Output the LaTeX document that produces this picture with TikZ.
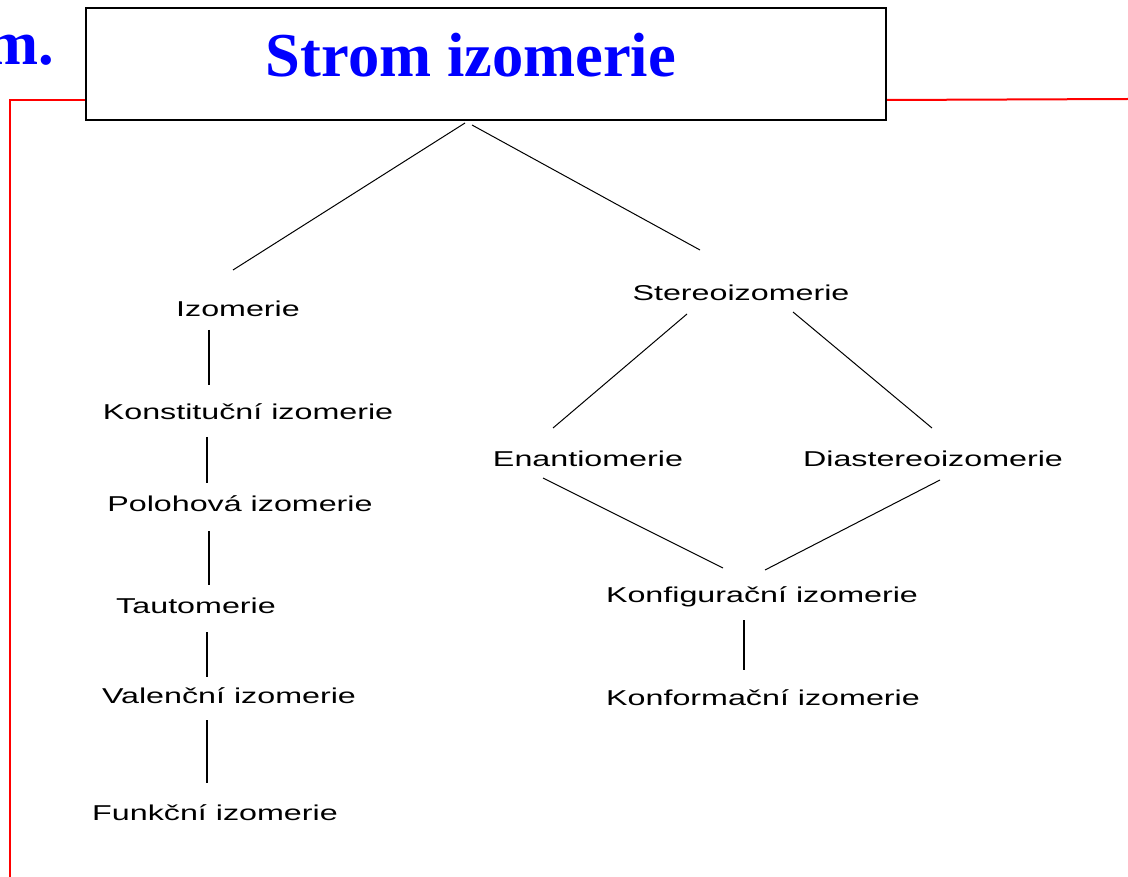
\documentclass[tikz,border=0pt]{standalone}
\usepackage{fontspec}
\usetikzlibrary{calc}
\newfontfamily\treefont[FakeStretch=1.5]{Liberation Sans}
\newfontfamily\titlefont{Liberation Serif}
\definecolor{ttblue}{RGB}{0,0,255}
\definecolor{rline}{RGB}{255,0,0}
\begin{document}
\begin{tikzpicture}[x=1pt,y=-1pt,
  lbl/.style={anchor=base,inner sep=0pt,font=\treefont\fontsize{21.5}{25}\selectfont},
  thin link/.style={draw=black,line width=1pt},
  vlink/.style={draw=black,line width=2pt},
  redline/.style={draw=rline,line width=2pt},
  ttext/.style={inner sep=0pt,text=ttblue,font=\titlefont\bfseries\fontsize{62.5}{70}\selectfont}]
\useasboundingbox (0,0) rectangle (1128,877);
\fill[white] (0,0) rectangle (1128,877);
% title box and red frame lines
\node[draw=black,line width=2pt,fill=white,minimum width=800pt,minimum height=112pt,inner sep=0pt] (title) at (486,64) {};
\draw[redline] (10,877) |- ($(title.south west)+(0,-21)$);
\draw[redline] ($(title.south east)+(0,-21)$) -- (1128,99);
\node[ttext,anchor=base] (ttl) at (471,77) {Strom izomerie};
\node[ttext,anchor=base east] (mm) at (54,65) {m.};
% tree labels
\node[lbl] (izo) at (238,317) {Izomerie};
\node[lbl] (konst) at (248,420) {Konstituční izomerie};
\node[lbl] (polo) at (240,511) {Polohová izomerie};
\node[lbl] (tauto) at (196,613) {Tautomerie};
\node[lbl] (valen) at (229,703) {Valenční izomerie};
\node[lbl] (funk) at (215,820) {Funkční izomerie};
\node[lbl] (stereo) at (741,301) {Stereoizomerie};
\node[lbl] (enan) at (588,466) {Enantiomerie};
\node[lbl] (diast) at (933,466) {Diastereoizomerie};
\node[lbl] (konfig) at (762,602) {Konfigurační izomerie};
\node[lbl] (konform) at (763,705) {Konformační izomerie};
% connectors
\draw[thin link] ($(title.south)+(-21,2)$) -- ($(izo.base)+(-5,-47)$);
\draw[thin link] ($(title.south)+(-14,4)$) -- ($(stereo.base)+(-41,-51)$);
\draw[vlink] ($(izo.base)+(-29,13)$) -- ($(konst.base)+(-39,-35)$);
\draw[vlink] ($(konst.base)+(-41,17)$) -- ($(polo.base)+(-33,-28)$);
\draw[vlink] ($(polo.base)+(-31,20)$) -- ($(tauto.base)+(13,-28)$);
\draw[vlink] ($(tauto.base)+(11,19)$) -- ($(valen.base)+(-22,-26)$);
\draw[vlink] ($(valen.base)+(-22,17)$) -- ($(funk.base)+(-8,-37)$);
\draw[thin link] ($(stereo.base)+(-54,13)$) -- ($(enan.base)+(-35,-38)$);
\draw[thin link] ($(stereo.base)+(52,11)$) -- ($(diast.base)+(-1,-38)$);
\draw[thin link] ($(enan.base)+(-45,12)$) -- ($(konfig.base)+(-39,-34)$);
\draw[thin link] ($(diast.base)+(7,14)$) -- ($(konfig.base)+(3,-32)$);
\draw[vlink] ($(konfig.base)+(-18,18)$) -- ($(konform.base)+(-19,-35)$);
\end{tikzpicture}
\end{document}
